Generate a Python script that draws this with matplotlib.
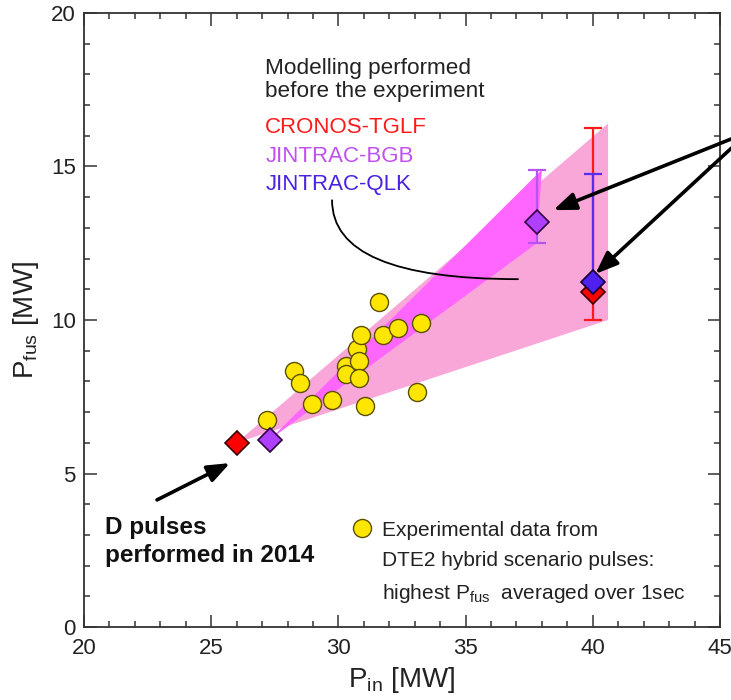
import matplotlib
matplotlib.use("Agg")
import matplotlib.pyplot as plt
from matplotlib.lines import Line2D
from matplotlib.patches import Polygon

plt.rcParams['font.family'] = ['Liberation Sans', 'DejaVu Sans']

# experimental points (DTE2 hybrid pulses)
pin_exp = [27.2, 28.25, 28.5, 28.95, 29.75, 30.3, 30.3, 30.75, 30.8, 30.8, 30.9,
           31.05, 31.6, 31.75, 32.35, 33.1, 33.25]
pfus_exp = [6.75, 8.35, 7.95, 7.25, 7.4, 8.5, 8.25, 9.05, 8.65, 8.1, 9.5,
            7.2, 10.6, 9.5, 9.75, 7.65, 9.9]

# modelling results
cronos_pin = [26.0, 40.0]
cronos_pfus = [6.0, 10.9]
cronos_low = [6.0, 10.0]
cronos_high = [6.0, 16.25]

bgb_pin = [27.3, 37.8]
bgb_pfus = [6.1, 13.2]
bgb_low = [6.1, 12.5]
bgb_high = [6.1, 14.9]

qlk_pin = [40.0]
qlk_pfus = [11.25]
qlk_high = [14.75]

# shaded prediction bands
band_pink_x = [26.0, 40.6, 40.6]
band_pink_y = [6.0, 16.4, 10.0]
band_mag_x = [27.3, 38.0, 37.8]
band_mag_y = [6.1, 14.9, 12.5]

fig = plt.figure(figsize=(7.31, 7.0), dpi=100)
ax = fig.add_axes([84 / 731, 73 / 700, 636 / 731, 614 / 700])

ax.add_patch(Polygon(list(zip(band_pink_x, band_pink_y)), closed=True,
                     facecolor='#f9a6d8', edgecolor='none', zorder=1))
ax.add_patch(Polygon(list(zip(band_mag_x, band_mag_y)), closed=True,
                     facecolor='#ff66ff', edgecolor='none', zorder=1.5))

# error bars
ax.errorbar(cronos_pin[1:], cronos_pfus[1:],
            yerr=[[cronos_pfus[1] - cronos_low[1]], [cronos_high[1] - cronos_pfus[1]]],
            fmt='none', ecolor='#ff1a1a', elinewidth=1.6, capsize=6.5, capthick=1.6, zorder=2)
ax.errorbar(qlk_pin, qlk_pfus, yerr=[[0], [qlk_high[0] - qlk_pfus[0]]],
            fmt='none', ecolor='#5a2cf0', elinewidth=1.6, capsize=6.5, capthick=1.6, zorder=2.1)
ax.errorbar(bgb_pin[1:], bgb_pfus[1:],
            yerr=[[bgb_pfus[1] - bgb_low[1]], [bgb_high[1] - bgb_pfus[1]]],
            fmt='none', ecolor='#b455f0', elinewidth=1.6, capsize=6.5, capthick=1.6, zorder=2)

ax.plot(pin_exp, pfus_exp, 'o', ms=13, mfc='#ffe600', mec='#5a5000', mew=1.0,
        ls='none', zorder=3)

ax.plot(cronos_pin, cronos_pfus, 'D', ms=12, mfc='#ff0000', mec='#3a0000', mew=1.2,
        ls='none', zorder=4)
ax.plot(bgb_pin, bgb_pfus, 'D', ms=12, mfc='#b040ff', mec='#300040', mew=1.2,
        ls='none', zorder=4)
ax.plot(qlk_pin, qlk_pfus, 'D', ms=12, mfc='#5020f0', mec='#100030', mew=1.2,
        ls='none', zorder=5)

# axes
ax.set_xlim(20, 45)
ax.set_ylim(0, 20)
ax.set_xticks([20, 25, 30, 35, 40, 45])
ax.set_yticks([0, 5, 10, 15, 20])
ax.set_xticks(range(20, 46), minor=True)
ax.set_yticks(range(0, 21), minor=True)
ax.tick_params(which='both', direction='in', top=True, right=True, width=1.1,
               color='#333333', labelsize=16, labelcolor='#222222')
ax.tick_params(which='major', length=9, pad=6)
ax.tick_params(which='minor', length=4.5)
ax.tick_params(axis='x', which='major', pad=8)
for s in ax.spines.values():
    s.set_linewidth(1.3)
    s.set_color('#333333')
ax.set_xlabel(r'P$_\mathregular{in}$ [MW]', fontsize=20, color='#222222', labelpad=4)
ax.set_ylabel(r'P$_\mathregular{fus}$ [MW]', fontsize=20, color='#222222', labelpad=7)

# annotations
ax.text(0.285, 0.927, 'Modelling performed\nbefore the experiment', transform=ax.transAxes,
        fontsize=16.2, va='top', ha='left', color='#222222', linespacing=1.15)
ax.text(0.285, 0.830, 'CRONOS-TGLF', transform=ax.transAxes, fontsize=16,
        va='top', color='#ff1a1a')
ax.text(0.285, 0.784, 'JINTRAC-BGB', transform=ax.transAxes, fontsize=16,
        va='top', color='#c050f0')
ax.text(0.285, 0.738, 'JINTRAC-QLK', transform=ax.transAxes, fontsize=16,
        va='top', color='#4a22e0')

ax.text(0.033, 0.180, 'D pulses\nperformed in 2014', transform=ax.transAxes,
        fontsize=17.5, fontweight='bold', va='top', ha='left', color='#111111',
        linespacing=1.25)

arrow = dict(arrowstyle='-|>,head_length=0.9,head_width=0.35', color='black',
             lw=2.6, mutation_scale=15, shrinkA=0, shrinkB=0)
ax.annotate('', xy=(25.74, 5.34), xytext=(22.87, 4.14), arrowprops=arrow)
ax.annotate('', xy=(38.45, 13.58), xytext=(45.45, 15.9), arrowprops=arrow,
            annotation_clip=False)
ax.annotate('', xy=(40.1, 11.5), xytext=(45.45, 15.6), arrowprops=arrow,
            annotation_clip=False)
ax.annotate('', xy=(37.06, 11.33), xytext=(29.75, 13.9),
            arrowprops=dict(arrowstyle='-', color='black', lw=1.3, shrinkA=0, shrinkB=0,
                            connectionstyle='angle3,angleA=90,angleB=0'))

# legend for the experimental points
blank = Line2D([], [], ls='none', marker='none')
circ = Line2D([], [], ls='none', marker='o', ms=13, mfc='#ffe600', mec='#5a5000', mew=1.0)
ax.legend([circ, blank, blank],
          ['Experimental data from', 'DTE2 hybrid scenario pulses:',
           r'highest P$_\mathregular{fus}$  averaged over 1sec'],
          loc='upper left', bbox_to_anchor=(0.405, 0.19), frameon=False,
          fontsize=15, handlelength=1.0, handletextpad=0.45, labelspacing=0.55,
          borderpad=0, labelcolor='#222222')

fig.savefig('out.png', dpi=100)
